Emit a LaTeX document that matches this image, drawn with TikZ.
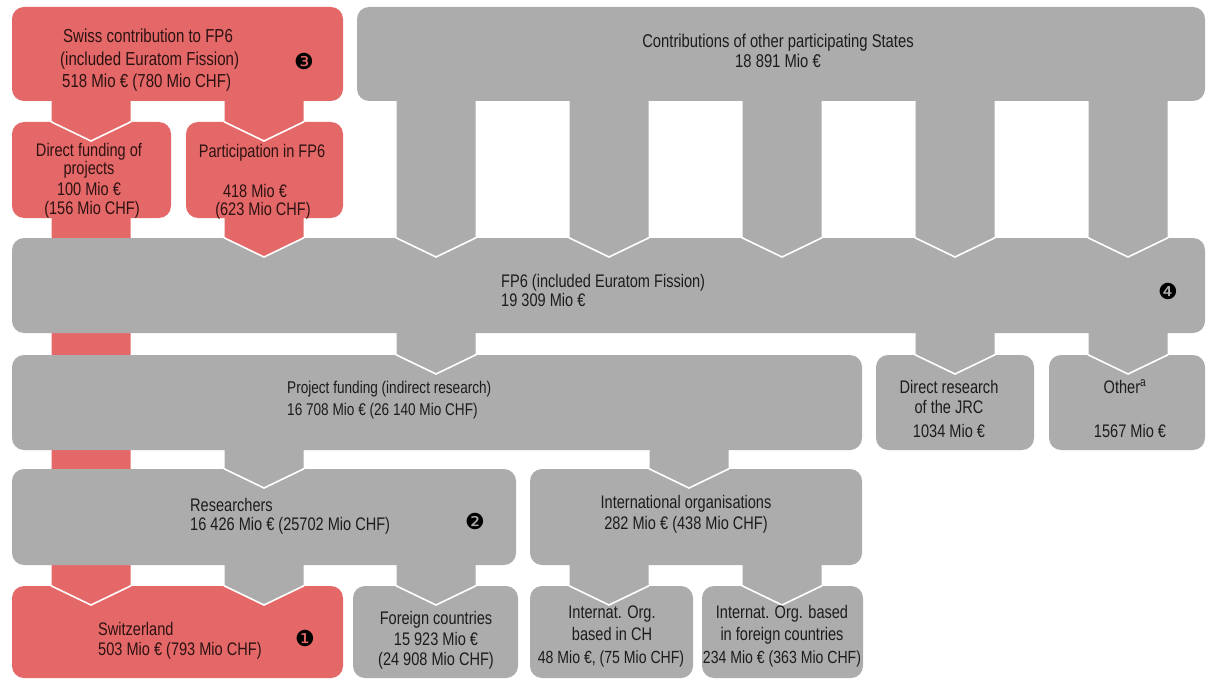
\documentclass[tikz,border=0pt]{standalone}
\usepackage{fontspec}
\setmainfont{Liberation Sans}[FakeStretch=0.80]
\newfontfamily\dejavu{DejaVu Sans}
\usetikzlibrary{calc}
\definecolor{redc}{RGB}{229,104,104}
\definecolor{grayc}{RGB}{172,172,172}
\definecolor{txtc}{RGB}{30,27,27}
\definecolor{txtr}{RGB}{45,18,18}
\newcommand\fs{\fontsize{18.2}{21}\selectfont}
\newcommand\fsp{\fontsize{17}{20}\selectfont}
\newcommand\fsq{\fontsize{17.6}{20}\selectfont}
\newcommand\fsb{\fontsize{18.5}{21}\selectfont}
\newcommand\fss{\fontsize{18.8}{21}\selectfont}
% pillar connector: from node #1 down to node #2 at x = #3, colour #4
\newcommand\pillar[4]{%
  \path (#3,0) coordinate (pc);
  \fill[#4] ($(pc |- #1.south)+(-39.5,-6)$) -- ($(pc |- #2.north)+(-39.5,0)$)
     -- ($(pc |- #2.north)+(0,19)$) -- ($(pc |- #2.north)+(39.5,0)$)
     -- ($(pc |- #1.south)+(39.5,-6)$) -- cycle;
  \draw[vline] ($(pc |- #2.north)+(-39.5,-1)$) -- ($(pc |- #2.north)+(-39.5,0)$)
     -- ($(pc |- #2.north)+(0,19)$) -- ($(pc |- #2.north)+(39.5,0)$)
     -- ($(pc |- #2.north)+(39.5,-1)$);
}
\newcommand\boxfill[2]{\fill[#2, rounded corners=12pt] (#1.north west) rectangle (#1.south east);}
\tikzset{
  bx/.style={rectangle, inner sep=0pt, outer sep=0pt},
  vline/.style={white, line width=1.6pt, line join=miter},
  t/.style={inner sep=0pt, anchor=base, font=\fs, text=txtc},
  tl/.style={t, anchor=base west},
  tr/.style={t, text=txtr},
  tlr/.style={tl, text=txtr},
  num/.style={inner sep=0pt, anchor=center, font=\dejavu\fontsize{22}{22}\selectfont, text=black}
}
\begin{document}
\begin{tikzpicture}[x=1pt, y=-1pt]
\useasboundingbox (0,0) rectangle (1206,679);
\fill[white] (0,0) rectangle (1206,679);
% ---- box geometry (nodes) ----
\node[bx, minimum width=331pt, minimum height=94pt] (swiss) at (177.5,54) {};
\node[bx, minimum width=848pt, minimum height=94pt] (contrib) at (781,54) {};
\node[bx, minimum width=159pt, minimum height=96pt] (direct) at (91.5,170) {};
\node[bx, minimum width=157pt, minimum height=96pt] (partic) at (264.5,170) {};
\node[bx, minimum width=1193pt, minimum height=95pt] (fp6) at (608.5,285.5) {};
\node[bx, minimum width=850pt, minimum height=95pt] (proj) at (437,402.5) {};
\node[bx, minimum width=158pt, minimum height=95pt] (jrc) at (955,402.5) {};
\node[bx, minimum width=156pt, minimum height=95pt] (other) at (1127,402.5) {};
\node[bx, minimum width=504pt, minimum height=96pt] (res) at (264,517) {};
\node[bx, minimum width=332pt, minimum height=96pt] (intorg) at (696,517) {};
\node[bx, minimum width=331pt, minimum height=92pt] (swiz) at (177.5,632) {};
\node[bx, minimum width=165pt, minimum height=92pt] (foreign) at (435.5,632) {};
\node[bx, minimum width=163pt, minimum height=92pt] (orgch) at (611.5,632) {};
\node[bx, minimum width=161pt, minimum height=92pt] (orgfor) at (782.5,632) {};
% ---- drawing, bottom to top ----
\boxfill{swiz}{redc}
\boxfill{foreign}{grayc}
\boxfill{orgch}{grayc}
\boxfill{orgfor}{grayc}
\boxfill{jrc}{grayc}
\boxfill{other}{grayc}
\boxfill{direct}{redc}
\boxfill{partic}{redc}
\pillar{direct}{swiz}{91}{redc}
\pillar{res}{swiz}{264}{grayc}
\pillar{res}{foreign}{436}{grayc}
\pillar{intorg}{orgch}{609}{grayc}
\pillar{intorg}{orgfor}{782}{grayc}
\boxfill{res}{grayc}
\boxfill{intorg}{grayc}
\pillar{proj}{res}{264}{grayc}
\pillar{proj}{intorg}{689}{grayc}
\boxfill{proj}{grayc}
\pillar{fp6}{proj}{436}{grayc}
\pillar{fp6}{jrc}{955}{grayc}
\pillar{fp6}{other}{1128}{grayc}
\boxfill{fp6}{grayc}
\pillar{partic}{fp6}{264}{redc}
\pillar{contrib}{fp6}{436}{grayc}
\pillar{contrib}{fp6}{609}{grayc}
\pillar{contrib}{fp6}{782}{grayc}
\pillar{contrib}{fp6}{955}{grayc}
\pillar{contrib}{fp6}{1128}{grayc}
\pillar{swiss}{direct}{91}{redc}
\pillar{swiss}{partic}{264}{redc}
\boxfill{swiss}{redc}
\boxfill{contrib}{grayc}
% ---- texts ----
\node[tlr, font=\fss] (sw1) at (63,43) {Swiss contribution to FP6};
\node[tlr, font=\fss] (sw2) at (60,66) {(included Euratom Fission)};
\node[tlr, font=\fss] (sw3) at (62,88) {518 Mio € (780 Mio CHF)};
\node[num] (n3) at (304,61) {❸};
\node[t, font=\fsb] (co1) at (778,48) {Contributions of other participating States};
\node[t, font=\fsb] (co2) at (778,68) {18 891 Mio €};
\node[tr] (df1) at (89,157) {Direct funding of};
\node[tr] (df2) at (89,175) {projects};
\node[tr] (df3) at (89,196) {100 Mio €};
\node[tr] (df4) at (92,214) {(156 Mio CHF)};
\node[tr] (pa1) at (262,158) {Participation in FP6};
\node[tr] (pa2) at (255,197) {418 Mio €};
\node[tr] (pa3) at (263,215) {(623 Mio CHF)};
\node[tl] (fp1) at (501,287) {FP6 (included Euratom Fission)};
\node[tl] (fp2) at (501,306) {19 309 Mio €};
\node[num] (n4) at (1168,291) {❹};
\node[tl, font=\fsp] (pf1) at (287,393) {Project funding (indirect research)};
\node[tl, font=\fsp] (pf2) at (287,415) {16 708 Mio € (26 140 Mio CHF)};
\node[t] (jr1) at (949,393) {Direct research};
\node[t] (jr2) at (949,413) {of the JRC};
\node[t] (jr3) at (949,437) {1034 Mio €};
\node[t] (ot1) at (1125,393) {Other\textsuperscript{a}};
\node[t] (ot2) at (1130,437) {1567 Mio €};
\node[tl] (re1) at (190,511) {Researchers};
\node[tl] (re2) at (190,530) {16 426 Mio € (25702 Mio CHF)};
\node[num] (n2) at (475,521) {❷};
\node[t] (io1) at (686,508) {International organisations};
\node[t] (io2) at (686,529) {282 Mio € (438 Mio CHF)};
\node[tlr] (sz1) at (98,635) {Switzerland};
\node[tlr] (sz2) at (98,655) {503 Mio € (793 Mio CHF)};
\node[num] (n1) at (305,638) {❶};
\node[t] (fo1) at (436,624) {Foreign countries};
\node[t] (fo2) at (436,645) {15 923 Mio €};
\node[t] (fo3) at (436,665) {(24 908 Mio CHF)};
\node[t] (oc1) at (612,618) {Internat. Org.};
\node[t] (oc2) at (612,640) {based in CH};
\node[t, font=\fsq] (oc3) at (611,663) {48 Mio €, (75 Mio CHF)};
\node[t] (of1) at (782,618) {Internat. Org. based};
\node[t] (of2) at (782,640) {in foreign countries};
\node[t, font=\fsq] (of3) at (782,663) {234 Mio € (363 Mio CHF)};
\end{tikzpicture}
\end{document}
